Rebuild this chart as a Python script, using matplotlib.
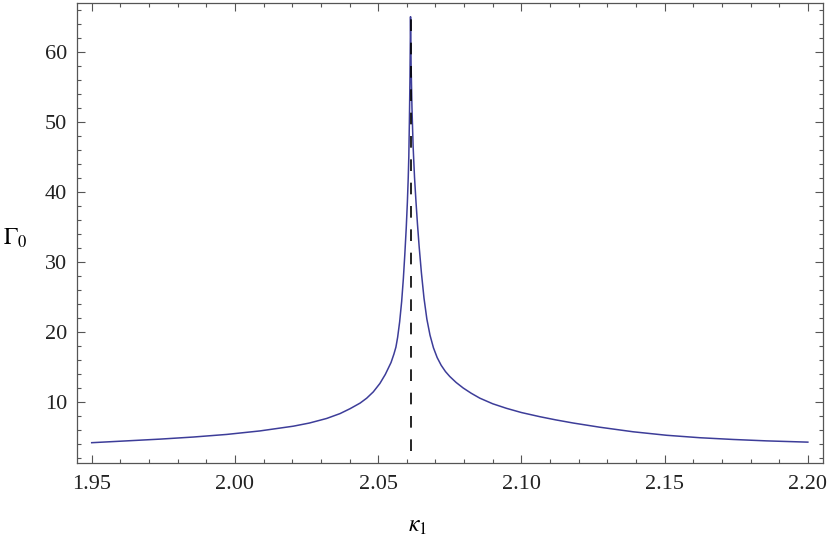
import matplotlib
matplotlib.use("Agg")
import matplotlib.pyplot as plt
from matplotlib.ticker import MultipleLocator, FixedLocator

plt.rcParams['mathtext.fontset'] = 'stix'

kappa = [1.9500, 1.9622, 1.9738, 1.9855, 1.9971, 2.0087, 2.0204, 2.0260,
         2.0320, 2.0367, 2.0402, 2.0437, 2.0460, 2.0483, 2.0506, 2.0525,
         2.0545, 2.0555, 2.0562, 2.0568, 2.0575, 2.0582, 2.0588, 2.0593,
         2.0598, 2.0602, 2.0605, 2.0607, 2.0609, 2.0611, 2.0613, 2.0615,
         2.0618, 2.0622, 2.0627, 2.0632, 2.0637, 2.0643, 2.0651, 2.0660,
         2.0670, 2.0681, 2.0693, 2.0706, 2.0720, 2.0735, 2.0750, 2.0772,
         2.0797, 2.0825, 2.0855, 2.0900, 2.0948, 2.1000, 2.1065, 2.1120,
         2.1181, 2.1274, 2.1390, 2.1507, 2.1623, 2.1740, 2.1856, 2.2000]
gamma = [4.14, 4.40, 4.65, 4.95, 5.32, 5.82, 6.50, 6.95,
         7.60, 8.30, 9.00, 9.80, 10.50, 11.40, 12.60, 13.90,
         15.60, 16.80, 17.80, 19.20, 21.40, 24.30, 27.60, 31.00,
         34.80, 38.50, 42.00, 45.00, 50.00, 56.00, 65.00, 58.00,
         52.00, 46.50, 42.00, 38.60, 35.50, 32.20, 28.40, 24.80,
         21.80, 19.50, 17.70, 16.30, 15.20, 14.30, 13.60, 12.75,
         11.95, 11.20, 10.50, 9.70, 9.05, 8.45, 7.85, 7.40,
         6.95, 6.35, 5.70, 5.20, 4.85, 4.60, 4.40, 4.22]

kappa_c = 2.0613
vline_y = [3.0, 65.0]

xticks = [1.95, 2.00, 2.05, 2.10, 2.15, 2.20]
xticklabels = ["1.95", "2.00", "2.05", "2.10", "2.15", "2.20"]
yticks = [10, 20, 30, 40, 50, 60]
yticklabels = ["10", "20", "30", "40", "50", "60"]

fig = plt.figure(figsize=(8.3, 5.4), dpi=100)
ax = fig.add_axes([0.0924, 0.1426, 0.8992, 0.8524])

ax.plot(kappa, gamma, color='#3d3d99', lw=1.1, zorder=2,
        solid_joinstyle='round')
ax.plot([kappa_c, kappa_c], vline_y, color='black', lw=1.2,
        dashes=(7, 7), zorder=3)

ax.set_xlim(1.94476, 2.2053)
ax.set_ylim(1.24, 67.0)

ax.xaxis.set_major_locator(FixedLocator(xticks))
ax.set_xticklabels(xticklabels)
ax.yaxis.set_major_locator(FixedLocator(yticks))
ax.set_yticklabels(yticklabels)
ax.xaxis.set_minor_locator(MultipleLocator(0.01))
ax.yaxis.set_minor_locator(MultipleLocator(2))

frame_col = '#555555'
for s in ax.spines.values():
    s.set_color(frame_col)
    s.set_linewidth(0.9)

ax.tick_params(which='both', direction='in', top=True, right=True,
               color=frame_col, width=0.8)
ax.tick_params(which='major', length=6)
ax.tick_params(which='minor', length=3)
ax.tick_params(axis='x', which='major', pad=9)
ax.tick_params(axis='y', which='major', pad=7)
for lab in ax.get_xticklabels() + ax.get_yticklabels():
    lab.set_fontfamily('Liberation Serif')
    lab.set_fontsize(16)
    lab.set_color('#222222')

fig.text(0.503, 0.028, r'$\kappa_1$', fontsize=17, ha='center', va='center')
fig.text(0.018, 0.560, r'$\Gamma_0$', fontsize=17, ha='center', va='center')

fig.savefig('out.png', dpi=100)
